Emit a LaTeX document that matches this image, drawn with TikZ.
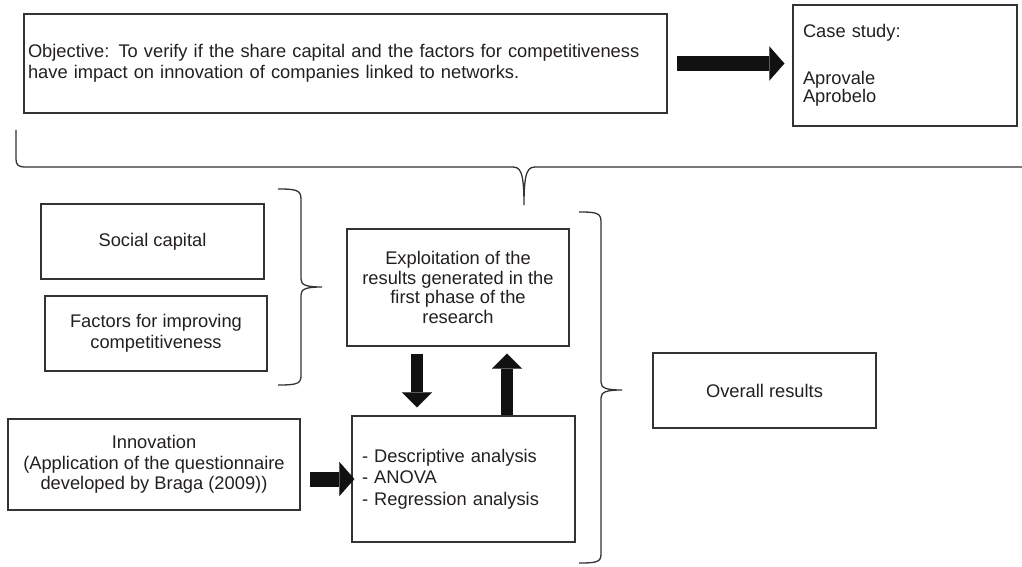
\documentclass[tikz,border=0pt]{standalone}
\usepackage{fontspec}
\setmainfont{Liberation Sans}
\usetikzlibrary{arrows.meta,calc}
\definecolor{txt}{HTML}{231F20}
\definecolor{linec}{HTML}{333333}
\definecolor{arrc}{HTML}{111111}
\newcommand\dfont{\fontsize{18.3}{20.5}\selectfont}
\begin{document}
\begin{tikzpicture}[x=1pt,y=-1pt,
  box/.style={draw=linec, line width=1.3pt, inner sep=0pt, font=\dfont, text=txt, align=center},
  brc/.style={draw=linec, line width=1.3pt},
  harrow/.style={draw=arrc, line width=15pt, -{Triangle[width=34pt,length=15pt,line width=0.01pt]}},
  varrow/.style={draw=arrc, line width=12pt, -{Triangle[width=30pt,length=15pt,line width=0.01pt]}}]
\useasboundingbox (0,0) rectangle (1022,567);

\node[box, minimum width=643pt, minimum height=99pt, text width=635pt, align=left] (obj) at (345.5,63.5)
  {Objective: To verify if the share capital and the factors for competitiveness\\have impact on innovation of companies linked to networks.};
\node[box, minimum width=224pt, minimum height=121pt, text width=204pt, align=left] (case) at (905,65.5)
  {Case study:\\[26pt]Aprovale\\[-2pt]Aprobelo};
\node[box, minimum width=223pt, minimum height=75pt] (social) at (152.5,241.5) {Social capital};
\node[box, minimum width=222pt, minimum height=75pt] (factors) at (156,333.5) {Factors for improving\\competitiveness};
\node[box, minimum width=222pt, minimum height=117pt] (expl) at (458,287.5)
  {Exploitation of the\\[-1pt]results generated in the\\[-1pt]first phase of the\\[-1pt]research};
\node[box, minimum width=223pt, minimum height=126pt, text width=203pt, align=left] (anal) at (463.5,479)
  {- Descriptive analysis\\[1pt]- ANOVA\\[1pt]- Regression analysis};
\node[box, minimum width=292pt, minimum height=91pt] (innov) at (154,464.5)
  {Innovation\\(Application of the questionnaire\\developed by Braga (2009))};
\node[box, minimum width=223pt, minimum height=75pt] (overall) at (764.5,390.5) {Overall results};

% block arrows
\coordinate (a1) at (obj.east -| case.west);
\draw[harrow] ($(obj.east)+(9,0)$) -- ($(a1)+(-8,0)$);
\coordinate (a2) at (anal.west -| innov.east);
\draw[harrow] ($(a2)+(9,0)$) -- ($(anal.west)+(3,0)$);
\draw[varrow] ($(expl.south)+(-41,7)$) -- ($(anal.north)+(-46.5,-8)$);
\draw[varrow] ($(anal.north)+(43.5,0)$) -- ($(expl.south)+(49,7)$);

% braces
\draw[brc] (16,130) -- (16,159) .. controls (16,165) and (18,167) .. (26,167) -- (512,167)
  .. controls (520,167) and (524,170) .. (524,205)
  .. controls (524,170) and (528,167) .. (536,167) -- (1030,167);
\draw[brc] (278,189) .. controls (296,189) and (301,190) .. (301,199) -- (301,279)
  .. controls (301,285) and (306,287) .. (322,287)
  .. controls (306,287) and (301,289) .. (301,295) -- (301,376)
  .. controls (301,384) and (296,385) .. (278,385);
\draw[brc] (579,212) .. controls (597,212) and (601,213) .. (601,222) -- (601,382)
  .. controls (601,388) and (606,390) .. (622,390)
  .. controls (606,390) and (601,392) .. (601,398) -- (601,554)
  .. controls (601,562) and (597,563) .. (579,563);
\end{tikzpicture}
\end{document}
